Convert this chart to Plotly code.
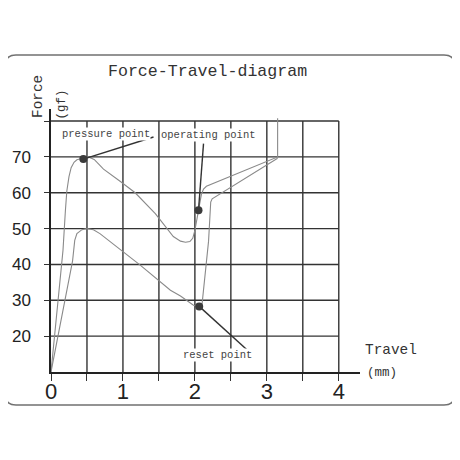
import plotly.graph_objects as go

# ---------------- data ----------------
press_x = [0.0, 0.167, 0.20, 0.22, 0.25, 0.28, 0.32, 0.36, 0.44, 0.52, 0.60, 0.73, 0.96, 1.17,
           1.45, 1.70, 1.80, 1.87, 1.93, 1.97, 2.00, 2.05, 2.09, 2.12, 2.16, 3.15, 3.15]
press_y = [10.0, 44.0, 55.0, 60.5, 64.5, 67.0, 68.5, 69.2, 69.6, 70.0, 69.3, 66.6, 63.2, 60.0,
           54.2, 47.8, 46.5, 46.2, 46.4, 47.3, 49.5, 55.0, 59.5, 61.0, 61.8, 70.0, 80.8]

release_x = [0.0, 0.30, 0.33, 0.36, 0.43, 0.50, 0.59, 0.68, 1.24, 1.66, 1.80, 1.98, 2.04,
             2.10, 2.19, 2.22, 2.24, 2.28, 3.15]
release_y = [10.0, 41.0, 46.7, 48.6, 49.7, 50.0, 49.7, 48.6, 39.8, 32.8, 31.2, 28.6, 28.3,
             29.0, 46.5, 57.4, 58.3, 58.8, 69.6]

point_names = ["pressure point", "operating point", "reset point"]
point_x = [0.45, 2.05, 2.06]
point_y = [69.4, 55.1, 28.3]
leader_end_x = [1.425, 2.12, 2.72]
leader_end_y = [75.55, 73.7, 16.3]
label_x = [0.765, 2.185, 2.31]
label_y = [76.5, 76.0, 14.66]

x_ticks = [0, 0.5, 1, 1.5, 2, 2.5, 3, 3.5, 4]
x_ticktext = ["0", "", "1", "", "2", "", "3", "", "4"]
y_ticks = [20, 30, 40, 50, 60, 70, 80]
y_ticktext = ["20", "30", "40", "50", "60", "70", ""]

title_text = "Force-Travel-diagram"

# ---------------- layout constants ----------------
OFF = 8                      # page body margin
W = H = 452
ML, MT = 51 - OFF, 109 - OFF
MR = W - (360 - OFF)
MB = H - (372 - OFF)
PW, PH = W - ML - MR, H - MT - MB
XR = [0, 4.295]
YR = [10, 83.36]
GRID_C = "#333333"
CURVE_C = "#8a8a8a"
TEXT_C = "#444444"


def px(xp, yp):
    """page pixel (reference) -> paper coordinates"""
    return (xp - OFF - ML) / PW, (H - MB - (yp - OFF)) / PH


fig = go.Figure()

# curves
fig.add_trace(go.Scatter(x=press_x, y=press_y, mode="lines",
                         line=dict(color=CURVE_C, width=1.1), hoverinfo="skip"))
fig.add_trace(go.Scatter(x=release_x, y=release_y, mode="lines",
                         line=dict(color=CURVE_C, width=1.1), hoverinfo="skip"))

# leader lines
for i in range(len(point_names)):
    fig.add_trace(go.Scatter(x=[point_x[i], leader_end_x[i]], y=[point_y[i], leader_end_y[i]],
                             mode="lines", line=dict(color="#333333", width=1.4),
                             hoverinfo="skip"))

# dots
fig.add_trace(go.Scatter(x=point_x, y=point_y, mode="markers",
                         marker=dict(color="#3a3a3a", size=8), hoverinfo="skip"))

# grid lines (from ticks)
x_max = x_ticks[-1]
y_max = y_ticks[-1]
for xv in x_ticks[1:]:
    fig.add_shape(type="line", xref="x", yref="y", x0=xv, x1=xv, y0=YR[0], y1=y_max,
                  line=dict(color=GRID_C, width=1.4), layer="below")
for yv in y_ticks:
    fig.add_shape(type="line", xref="x", yref="y", x0=0, x1=x_max, y0=yv, y1=yv,
                  line=dict(color=GRID_C, width=1.4), layer="below")

# rounded border
L, R, T, B, r = 5, 455, 55, 405, 11
def P(a, b):
    u, v = px(a, b)
    return f"{u:.5f},{v:.5f}"
path = (f"M {P(L + r, T)} L {P(R - r, T)} Q {P(R, T)} {P(R, T + r)} "
        f"L {P(R, B - r)} Q {P(R, B)} {P(R - r, B)} "
        f"L {P(L + r, B)} Q {P(L, B)} {P(L, B - r)} "
        f"L {P(L, T + r)} Q {P(L, T)} {P(L + r, T)} Z")
fig.add_shape(type="path", xref="paper", yref="paper", path=path,
              line=dict(color="#707070", width=1.6), layer="below")

mono = "Liberation Mono"

# point labels
for i, name in enumerate(point_names):
    fig.add_annotation(x=label_x[i], y=label_y[i], xref="x", yref="y", text=name,
                       showarrow=False, bgcolor="white", borderpad=0,
                       font=dict(family=mono, size=10.5, color=TEXT_C))

# title and axis names
def ann(text, xp, yp, size, angle=0, color="#333333"):
    u, v = px(xp, yp)
    fig.add_annotation(x=u, y=v, xref="paper", yref="paper", text=text, showarrow=False,
                       textangle=angle, xanchor="center", yanchor="middle",
                       font=dict(family=mono, size=size, color=color))

ann(title_text, 207, 71.7, 16.6)
ann("Force", 37.3, 96.7, 14.4, -90)
ann("(gf)", 61.7, 104.7, 12.4, -90)
ann("Travel", 390.8, 350, 14.4)
ann("(mm)", 381.7, 373.3, 12.5)

fig.update_layout(
    width=W, height=H,
    margin=dict(l=ML, r=MR, t=MT, b=MB, autoexpand=False),
    paper_bgcolor="white", plot_bgcolor="white",
    showlegend=False,
    xaxis=dict(range=XR, showgrid=False, zeroline=False, showline=True, automargin=False,
               linecolor="#222222", linewidth=1.5,
               tickmode="array", tickvals=x_ticks, ticktext=x_ticktext,
               ticks="outside", ticklen=7, tickwidth=1.4, tickcolor=GRID_C,
               ticklabelstandoff=-8,
               tickfont=dict(family="Liberation Sans", size=22, color="#222222")),
    yaxis=dict(range=YR, showgrid=False, zeroline=False, showline=True, automargin=False,
               linecolor="#222222", linewidth=1.5,
               tickmode="array", tickvals=y_ticks, ticktext=y_ticktext,
               ticks="outside", ticklen=5, tickwidth=1.4, tickcolor=GRID_C,
               ticklabelstandoff=10,
               tickfont=dict(family="Liberation Sans", size=17, color="#222222")),
)

fig.write_html("out.html")
